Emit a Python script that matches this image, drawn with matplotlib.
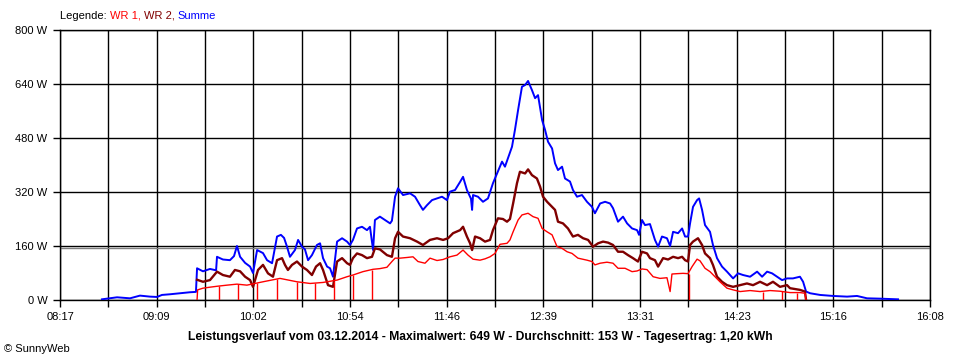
import matplotlib

matplotlib.use("Agg")
import matplotlib.pyplot as plt
import numpy as np

plt.rcParams["font.family"] = ["Liberation Sans", "DejaVu Sans"]

# time axis in minutes after midnight (08:17 = 497, 16:08 = 968)
T_START, T_END = 497, 968
tick_labels = ["08:17", "09:09", "10:02", "10:54", "11:46", "12:39", "13:31", "14:23", "15:16", "16:08"]
y_ticks = [0, 160, 320, 480, 640, 800]
avg_w = 153

# Summe (blue)
t_sum = [519.7, 527.9, 534.9, 540.3, 545.7, 549.5, 552.2, 556.6, 562.0, 567.4, 570.6, 571.2, 574.4,
         578.2, 581.5, 582.0, 585.2, 589.0, 591.2, 592.8, 594.5, 597.2, 599.9, 601.5, 603.7, 606.9,
         609.1, 611.8, 614.5, 616.6, 618.3, 619.9, 621.5, 624.2, 625.9, 628.0, 629.6, 631.3, 633.4,
         636.1, 637.8, 639.4, 641.6, 643.2, 644.8, 647.0, 649.7, 652.4, 654.0, 655.6, 657.8, 660.5,
         663.2, 664.8, 666.5, 667.5, 670.2, 673.0, 675.7, 676.7, 678.4, 680.0, 682.7, 686.5, 689.2,
         691.9, 693.5, 695.7, 698.4, 701.1, 703.8, 706.5, 708.1, 710.9, 713.6, 715.2, 717.3, 719.5,
         720.1, 720.6, 723.3, 726.0, 728.7, 731.4, 733.6, 736.3, 737.9, 739.5, 741.7, 743.3, 745.0,
         747.1, 748.8, 750.4, 752.5, 754.2, 755.8, 758.0, 759.6, 761.2, 763.4, 765.0, 766.6, 768.8,
         770.4, 773.1, 774.7, 776.9, 779.6, 782.3, 785.0, 786.6, 789.4, 792.1, 794.8, 796.4, 799.1,
         801.8, 804.0, 806.7, 809.4, 810.5, 812.1, 813.7, 816.4, 819.1, 820.8, 822.9, 825.6, 827.3,
         828.9, 831.6, 833.8, 835.4, 837.0, 838.1, 839.7, 841.9, 843.0, 844.6, 846.2, 848.9, 850.5,
         852.7, 855.4, 858.1, 861.4, 864.1, 866.8, 870.6, 874.4, 877.1, 879.8, 882.5, 885.2, 887.9,
         890.6, 893.8, 897.6, 899.3, 900.9, 903.1, 908.5, 915.5, 923.1, 928.5, 933.9, 940.9, 950.7]
w_sum = [2, 8, 5, 13, 10, 9, 15, 17, 20, 23, 24, 94, 85,
         92, 88, 128, 120, 118, 130, 160, 128, 110, 99, 80, 148, 139,
         118, 109, 188, 193, 184, 158, 128, 148, 178, 158, 150, 118, 133,
         163, 168, 124, 99, 94, 69, 173, 183, 173, 163, 178, 212, 217,
         207, 217, 148, 237, 247, 237, 227, 235, 306, 331, 311, 316, 306,
         281, 267, 281, 296, 301, 306, 296, 321, 326, 350, 365, 326, 300,
         267, 311, 306, 291, 301, 346, 375, 410, 395, 420, 454, 504, 563,
         632, 637, 649, 622, 598, 607, 533, 504, 469, 449, 405, 385, 395,
         360, 351, 326, 306, 311, 291, 276, 257, 286, 291, 286, 272, 232,
         247, 227, 212, 207, 193, 237, 222, 225, 178, 158, 188, 183, 160,
         202, 198, 212, 188, 188, 227, 276, 296, 301, 267, 222, 202, 163,
         124, 99, 84, 64, 79, 74, 69, 84, 69, 84, 79, 69, 59,
         64, 64, 69, 54, 25, 20, 15, 12, 10, 12, 5, 4, 2]

# WR 2 (dark red)
t_wr2 = [571.2, 574.4, 578.2, 582.0, 585.2, 589.0, 591.7, 594.5, 597.2, 599.9, 601.5, 604.2, 606.9,
         609.6, 612.3, 614.5, 617.2, 618.8, 620.4, 622.6, 625.3, 628.0, 630.7, 633.4, 635.6, 637.8,
         639.4, 642.1, 644.8, 647.0, 649.7, 652.4, 654.0, 655.6, 657.8, 660.5, 663.2, 665.9, 667.5,
         670.2, 674.0, 676.7, 678.4, 680.0, 682.7, 686.5, 690.3, 693.5, 697.3, 701.1, 704.4, 707.1,
         709.8, 713.6, 715.2, 717.3, 719.0, 720.1, 721.7, 724.4, 727.1, 729.8, 731.4, 734.1, 736.8,
         739.0, 740.6, 742.3, 744.4, 746.0, 748.8, 750.4, 752.5, 755.2, 756.9, 758.5, 760.7, 763.4,
         765.0, 766.6, 769.3, 772.0, 774.7, 777.4, 780.2, 782.9, 785.6, 788.3, 791.0, 793.7, 796.4,
         799.1, 801.8, 804.5, 807.2, 809.9, 812.1, 814.8, 816.4, 819.1, 820.8, 823.5, 826.2, 828.9,
         831.6, 833.8, 835.4, 837.0, 838.1, 839.7, 842.4, 844.6, 846.2, 848.9, 850.5, 852.7, 855.4,
         858.1, 861.4, 865.2, 868.9, 872.2, 876.0, 879.8, 883.0, 886.8, 890.6, 892.2, 897.6, 900.3,
         900.9]
w_wr2 = [60, 54, 59, 84, 74, 69, 89, 85, 69, 59, 39, 89, 104,
         79, 69, 118, 124, 104, 89, 104, 114, 99, 89, 74, 99, 109,
         89, 44, 39, 114, 124, 109, 104, 124, 138, 133, 124, 128, 153,
         150, 133, 128, 183, 202, 188, 183, 173, 163, 178, 183, 178, 183,
         198, 207, 217, 188, 168, 148, 188, 183, 173, 178, 207, 242, 240,
         232, 240, 286, 346, 380, 375, 387, 370, 360, 336, 306, 291, 276,
         267, 232, 227, 212, 188, 193, 183, 178, 158, 168, 173, 170, 163,
         143, 143, 133, 124, 114, 143, 138, 124, 118, 99, 124, 120, 128,
         124, 128, 118, 114, 163, 173, 183, 163, 138, 124, 104, 69, 54,
         44, 39, 44, 49, 44, 54, 44, 54, 39, 44, 35, 30, 25,
         0]

# WR 1 (red)
t_wr1 = [571.2, 571.5, 574.4, 578.2, 582.5, 587.4, 592.8, 598.2, 606.9, 616.1, 625.3, 632.4, 639.4,
         647.0, 652.4, 655.6, 661.0, 666.5, 670.2, 674.0, 676.7, 678.4, 681.1, 684.9, 688.1, 690.8,
         694.6, 697.3, 701.1, 704.4, 708.1, 711.9, 715.2, 717.9, 720.6, 724.4, 727.1, 729.8, 732.5,
         735.2, 739.0, 740.6, 742.3, 745.0, 747.1, 750.4, 753.1, 755.8, 758.0, 760.7, 763.4, 766.1,
         768.8, 771.5, 774.2, 777.4, 782.3, 785.0, 786.6, 789.4, 793.1, 796.4, 799.1, 802.9, 806.7,
         809.4, 812.1, 814.8, 818.1, 821.8, 825.6, 827.3, 828.3, 831.0, 834.3, 837.0, 839.2, 841.9,
         843.5, 846.2, 848.9, 851.6, 854.3, 858.1, 861.4, 865.2, 870.6, 876.0, 881.4, 886.8, 892.2,
         897.6, 900.3, 900.9]
w_wr1 = [0, 30, 35, 38, 41, 44, 47, 44, 54, 64, 54, 49, 52,
         59, 69, 74, 84, 91, 93, 97, 114, 124, 124, 126, 128, 114,
         109, 124, 117, 120, 128, 133, 148, 133, 121, 118, 122, 128, 138,
         165, 168, 178, 202, 237, 252, 257, 247, 242, 212, 202, 193, 158,
         153, 143, 138, 124, 118, 114, 104, 109, 112, 109, 94, 94, 84,
         86, 92, 90, 69, 64, 66, 25, 77, 78, 79, 78, 99, 121,
         116, 94, 84, 69, 54, 35, 30, 25, 28, 25, 28, 26, 22,
         22, 20, 0]

# WR 1 short dropouts to zero (time, level before the drop)
drop_t = [583.1, 593.4, 603.7, 614.5, 625.3, 635.1, 645.3, 655.6, 665.9, 837.5, 877.6, 887.9, 896.0]
drop_w = [41, 47, 50, 62, 54, 50, 57, 74, 90, 78, 25, 26, 22]

fig = plt.figure(figsize=(9.6, 3.6), dpi=100)
ax = fig.add_axes([60 / 960, 60 / 360, 870 / 960, 270 / 360])

grid_x = np.linspace(T_START, T_END, 19)
for gx in grid_x:
    ax.axvline(gx, color="black", lw=1, zorder=1)
for gy in y_ticks:
    ax.axhline(gy, color="black", lw=1, zorder=1)
ax.axhline(avg_w, color="#808080", lw=1, zorder=1)

ax.plot(t_sum, w_sum, color="#0000ff", lw=1.4, zorder=3)
ax.plot(t_wr2, w_wr2, color="#800000", lw=1.7, zorder=4)
ax.plot(t_wr1, w_wr1, color="#ff0000", lw=1.0, zorder=5)
ax.vlines(drop_t, 0, drop_w, color="#ff0000", lw=1.0, zorder=5)

ax.set_xlim(T_START, T_END)
ax.set_ylim(0, 800)
ax.set_xticks(grid_x)
ax.set_xticklabels([lab if i % 2 == 0 else "" for i, lab in
                    enumerate(np.repeat(tick_labels, 2)[:19])])
ax.set_yticks(y_ticks)
ax.set_yticklabels([f"{v} W" for v in y_ticks])
ax.tick_params(direction="out", length=5, width=1, color="black", labelsize=8, pad=4)
for sp in ax.spines.values():
    sp.set_linewidth(1)

fig.text(480 / 960, 1 - 337 / 360,
         "Leistungsverlauf vom 03.12.2014 - Maximalwert: 649 W - Durchschnitt: 153 W - Tagesertrag: 1,20 kWh",
         ha="center", va="center", fontsize=8.7, fontweight="bold")
fig.text(4 / 960, 1 - 349 / 360, "\u00a9 SunnyWeb", ha="left", va="center", fontsize=8)

# coloured legend line at the top
renderer = fig.canvas.get_renderer()
x = 60 / 960
for part, col in [("Legende: ", "black"), ("WR 1, ", "#ff0000"), ("WR 2, ", "#800000"), ("Summe", "#0000ff")]:
    t = fig.text(x, 1 - 16 / 360, part, color=col, ha="left", va="center", fontsize=8)
    bb = t.get_window_extent(renderer=renderer)
    x += bb.width / fig.bbox.width

fig.savefig("out.png", dpi=100)
